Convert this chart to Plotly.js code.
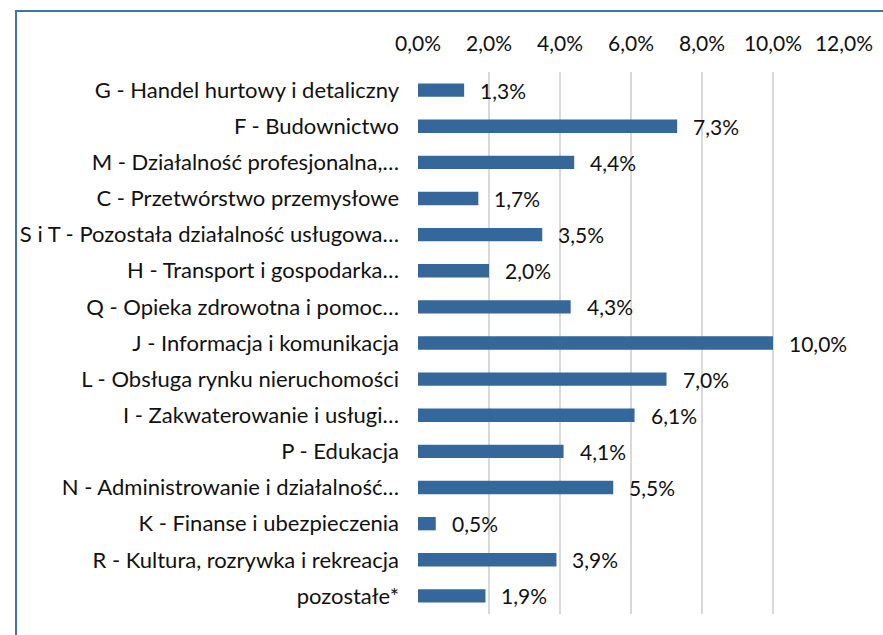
<!DOCTYPE html>
<html>
<head>
<meta charset="utf-8">
<script src="https://cdn.plot.ly/plotly-3.0.1.min.js"></script>
<style>
  html, body { margin: 0; padding: 0; background: #fff; }
  #wrap { position: relative; width: 883px; height: 635px; overflow: hidden; }
  #chart { position: absolute; left: 0; top: 0; width: 883px; height: 635px; }
  #frame { position: absolute; left: 15px; top: 10px; width: 900px; height: 700px;
           border-left: 2px solid #4472a8; border-top: 2px solid #4472a8; pointer-events: none; }
</style>
</head>
<body>
<div id="wrap">
  <div id="chart"></div>
  <div id="frame"></div>
</div>
<script>
const categories = [
  "G - Handel hurtowy i detaliczny",
  "F - Budownictwo",
  "M - Działalność profesjonalna,…",
  "C - Przetwórstwo przemysłowe",
  "S i T - Pozostała działalność usługowa…",
  "H - Transport i gospodarka…",
  "Q - Opieka zdrowotna i pomoc…",
  "J - Informacja i komunikacja",
  "L - Obsługa rynku nieruchomości",
  "I - Zakwaterowanie i usługi…",
  "P - Edukacja",
  "N - Administrowanie i działalność…",
  "K - Finanse i ubezpieczenia",
  "R - Kultura, rozrywka i rekreacja",
  "pozostałe*"
];
const valuesPct = [1.3, 7.3, 4.4, 1.7, 3.5, 2.0, 4.3, 10.0, 7.0, 6.1, 4.1, 5.5, 0.5, 3.9, 1.9];
const xTickValsPct = [0, 2, 4, 6, 8, 10, 12];

const xs = valuesPct.map(v => v / 100);
const fmt = v => v.toFixed(1).replace('.', ',') + '%';

const annotations = categories.map((c, i) => ({
  x: xs[i], y: c, xref: 'x', yref: 'y',
  text: fmt(valuesPct[i]), showarrow: false,
  xanchor: 'left', yanchor: 'middle', xshift: 14,
  font: { family: 'Lato, "Open Sans", sans-serif', size: 21, color: '#111' }
}));

const trace = {
  type: 'bar', orientation: 'h',
  x: xs, y: categories,
  marker: { color: '#35679a', line: { width: 0 } },
  hoverinfo: 'none'
};

const layout = {
  width: 883, height: 635,
  margin: { l: 418, r: 39, t: 72, b: 21, pad: 0 },
  paper_bgcolor: 'rgba(0,0,0,0)', plot_bgcolor: '#fff',
  separators: ',.',
  bargap: 0.63,
  showlegend: false,
  font: { family: 'Lato, "Open Sans", sans-serif', size: 21, color: '#111' },
  xaxis: {
    side: 'top', range: [0, 0.12],
    tickvals: xTickValsPct.map(v => v / 100),
    tickformat: '.1%',
    tickfont: { size: 21 },
    showgrid: true, gridcolor: '#d9d9d9', gridwidth: 1.5,
    zeroline: false, showline: false, ticks: '',
    ticklabelstandoff: 16,
    fixedrange: true
  },
  yaxis: {
    autorange: 'reversed', type: 'category',
    tickfont: { size: 22 },
    showgrid: false, zeroline: false, showline: false, ticks: '',
    ticklabelstandoff: 18,
    fixedrange: true
  },
  annotations: annotations
};

Plotly.newPlot('chart', [trace], layout, { displayModeBar: false, staticPlot: true });
</script>
</body>
</html>
